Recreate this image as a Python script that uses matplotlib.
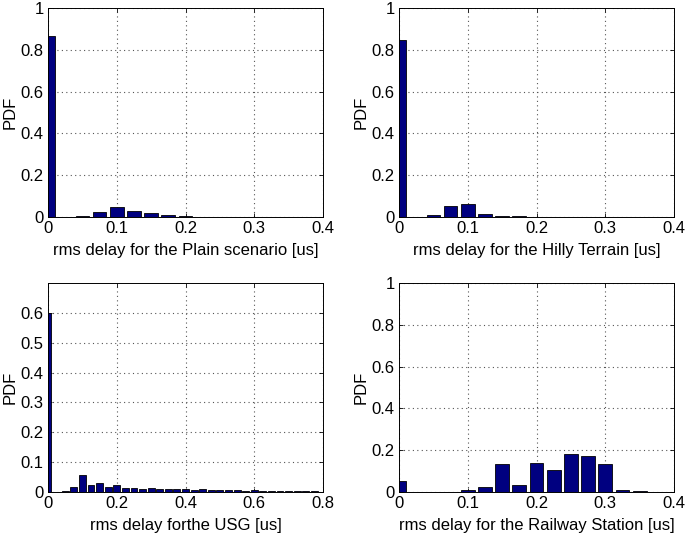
import numpy as np
import matplotlib
matplotlib.use('Agg')
import matplotlib.pyplot as plt

plt.rcParams['font.family'] = ['Liberation Sans', 'DejaVu Sans']

# bin centres are spaced 0.025 us apart, first bin at 0
plain_pdf = [0.865, 0.0, 0.003, 0.022, 0.050, 0.027, 0.020, 0.010, 0.006,
             0.002, 0.001, 0.001]
hilly_pdf = [0.845, 0.0, 0.008, 0.053, 0.060, 0.014, 0.006, 0.003, 0.002,
             0.001, 0.001, 0.001, 0.001, 0.001, 0.001]
usg_pdf = [0.600, 0.0, 0.005, 0.016, 0.056, 0.022, 0.030, 0.016, 0.024,
           0.012, 0.014, 0.011, 0.012, 0.009, 0.011, 0.009, 0.011, 0.008,
           0.010, 0.008, 0.008, 0.007, 0.007, 0.005, 0.006, 0.004, 0.005,
           0.003, 0.003, 0.003, 0.003, 0.003]
railway_pdf = [0.054, 0.001, 0.0, 0.002, 0.011, 0.026, 0.134, 0.034, 0.139,
               0.104, 0.182, 0.171, 0.134, 0.010, 0.005]

bin_step = 0.025

panels = [
    (plain_pdf, 'rms delay for the Plain scenario [us]', 0.4, 1.0,
     [0, 0.2, 0.4, 0.6, 0.8, 1], [0, 0.1, 0.2, 0.3, 0.4]),
    (hilly_pdf, 'rms delay for the Hilly Terrain [us]', 0.4, 1.0,
     [0, 0.2, 0.4, 0.6, 0.8, 1], [0, 0.1, 0.2, 0.3, 0.4]),
    (usg_pdf, 'rms delay forthe USG [us]', 0.8, 0.7,
     [0, 0.1, 0.2, 0.3, 0.4, 0.5, 0.6], [0, 0.2, 0.4, 0.6, 0.8]),
    (railway_pdf, 'rms delay for the Railway Station [us]', 0.4, 1.0,
     [0, 0.2, 0.4, 0.6, 0.8, 1], [0, 0.1, 0.2, 0.3, 0.4]),
]

W, H = 685, 536
fig = plt.figure(figsize=(W / 100, H / 100), dpi=100)

# axes boxes in pixels: left, top, right, bottom
boxes = [(48, 8, 323, 217), (399, 8, 674, 217),
         (48, 283, 323, 492), (399, 283, 674, 492)]


def fmt(v):
    return '%g' % v


for (pdf, xlabel, xmax, ymax, yticks, xticks), (l, t, r, b) in zip(panels, boxes):
    ax = fig.add_axes([l / W, 1 - b / H, (r - l) / W, (b - t) / H])
    centres = np.arange(len(pdf)) * bin_step
    ax.bar(centres, pdf, width=0.8 * bin_step, color='#000080',
           edgecolor='black', linewidth=0.6)
    ax.set_xlim(0, xmax)
    ax.set_ylim(0, ymax)
    ax.set_xticks(xticks)
    ax.set_yticks(yticks)
    ax.set_xticklabels([fmt(v) for v in xticks])
    ax.set_yticklabels([fmt(v) for v in yticks])
    ax.grid(True, linestyle=(0, (1, 3)), color='#555555', linewidth=0.8)
    ax.set_axisbelow(True)
    ax.tick_params(direction='in', length=3, labelsize=12, width=0.6,
                   top=True, right=True, pad=3)
    ax.set_xlabel(xlabel, fontsize=12, labelpad=5)
    ax.set_ylabel('PDF', fontsize=12, labelpad=2)
    for s in ax.spines.values():
        s.set_linewidth(0.7)

fig.savefig('out.png', dpi=100)
